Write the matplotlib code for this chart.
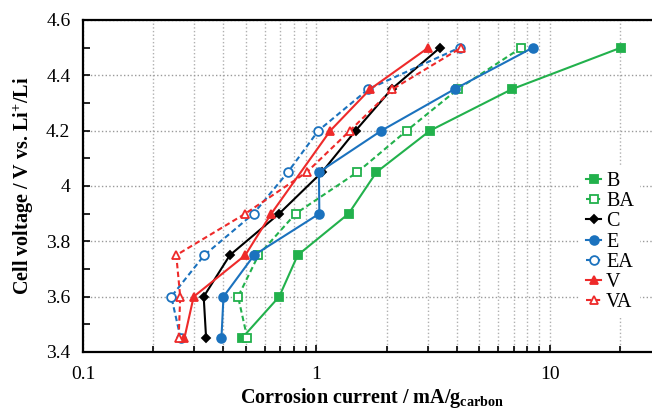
import matplotlib
matplotlib.use("Agg")
import matplotlib.pyplot as plt
from matplotlib.ticker import LogLocator, FixedLocator, MultipleLocator, FuncFormatter

plt.rcParams['font.family'] = ['Liberation Serif', 'DejaVu Serif']
plt.rcParams['mathtext.fontset'] = 'custom'
plt.rcParams['mathtext.rm'] = 'Liberation Serif'
plt.rcParams['mathtext.bf'] = 'Liberation Serif:bold'
plt.rcParams['mathtext.it'] = 'Liberation Serif:italic'

# Data
voltages = [3.45, 3.6, 3.75, 3.9, 4.05, 4.2, 4.35, 4.5]
voltages_V = [3.45, 3.6, 3.75, 3.9, 4.2, 4.35, 4.5]
B = [0.480, 0.693, 0.832, 1.375, 1.81, 3.07, 6.89, 20.2]
BA = [0.506, 0.462, 0.565, 0.815, 1.50, 2.44, 4.04, 7.56]
C = [0.337, 0.329, 0.426, 0.693, 1.057, 1.473, 2.10, 3.39]
E = [0.392, 0.400, 0.541, 1.03, 1.026, 1.90, 3.91, 8.47]
EA = [0.262, 0.239, 0.331, 0.538, 0.755, 1.02, 1.67, 4.11]
V = [0.272, 0.298, 0.496, 0.641, 1.148, 1.70, 3.02]
VA = [0.257, 0.261, 0.251, 0.496, 0.91, 1.393, 2.12, 4.18]

green = '#22b14c'
blue = '#1b72be'
red = '#ee2a2a'
dash = (0, (2.6, 1.6))

fig = plt.figure(figsize=(6.52, 4.13), dpi=100)
ax = fig.add_axes([83/652, 1-352/413, (661-83)/652, (352-20)/413])

lw = 1.5
ms = 6.3
series = [
    ('B', B, voltages, green, '-', 's', True, ms),
    ('BA', BA, voltages, green, dash, 's', False, ms),
    ('C', C, voltages, 'black', '-', 'D', True, 4.2),
    ('E', E, voltages, blue, '-', 'o', True, ms),
    ('EA', EA, voltages, blue, dash, 'o', False, ms),
    ('V', V, voltages_V, red, '-', '^', True, ms),
    ('VA', VA, voltages, red, dash, '^', False, ms),
]
for name, xs, ys, col, ls, mk, filled, msz in series:
    ax.plot(xs, ys, color=col, linestyle=ls, linewidth=lw, marker=mk,
            markersize=msz, markerfacecolor=col if filled else 'white',
            markeredgecolor=col, markeredgewidth=1.3, label=name, zorder=3)

ax.set_xscale('log')
ax.set_xlim(0.1, 30)
ax.set_ylim(3.4, 4.6)
ax.xaxis.set_major_locator(FixedLocator([0.1, 1, 10]))
ax.xaxis.set_major_formatter(FuncFormatter(lambda v, p: '%g' % v))
ax.xaxis.set_minor_locator(LogLocator(base=10, subs=range(2, 10), numticks=20))
ax.xaxis.set_minor_formatter(FuncFormatter(lambda v, p: ''))
ax.yaxis.set_major_locator(MultipleLocator(0.2))
ax.yaxis.set_minor_locator(MultipleLocator(0.1))
ax.yaxis.set_major_formatter(FuncFormatter(lambda v, p: '%g' % round(v, 2)))

ax.grid(which='major', axis='y', color='#9a9a9a', linestyle=':', linewidth=1.0)
ax.grid(which='both', axis='x', color='#b0b0b0', linestyle=':', linewidth=1.0)
ax.set_axisbelow(True)

ax.tick_params(which='both', direction='in', labelsize=14, width=1.2)
ax.tick_params(which='major', length=5)
ax.tick_params(axis='x', which='major', pad=10)
ax.tick_params(axis='y', which='major', pad=9)
ax.tick_params(which='minor', length=4)
ax.tick_params(axis='y', which='minor', length=5)

for s in ['left', 'bottom', 'top']:
    ax.spines[s].set_linewidth(1.6)
ax.spines['right'].set_visible(False)

ax.set_xlabel(r'Corrosion current / mA/g$_{\mathbf{carbon}}$', fontsize=14.5,
              fontweight='bold', labelpad=2)
ax.set_ylabel(r'Cell voltage / V vs. Li$^{\mathbf{+}}$/Li', fontsize=14.5,
              fontweight='bold', labelpad=7)

leg = ax.legend(loc='center left', bbox_to_anchor=(580/652, 1-242/413),
                bbox_transform=fig.transFigure, frameon=True, fontsize=14.5,
                handlelength=0.75, handletextpad=0.25, labelspacing=0.05,
                borderpad=0.3, borderaxespad=0)
leg.get_frame().set_edgecolor('none')
leg.get_frame().set_facecolor('white')
leg.get_frame().set_alpha(1)

fig.savefig('out.png', dpi=100)
